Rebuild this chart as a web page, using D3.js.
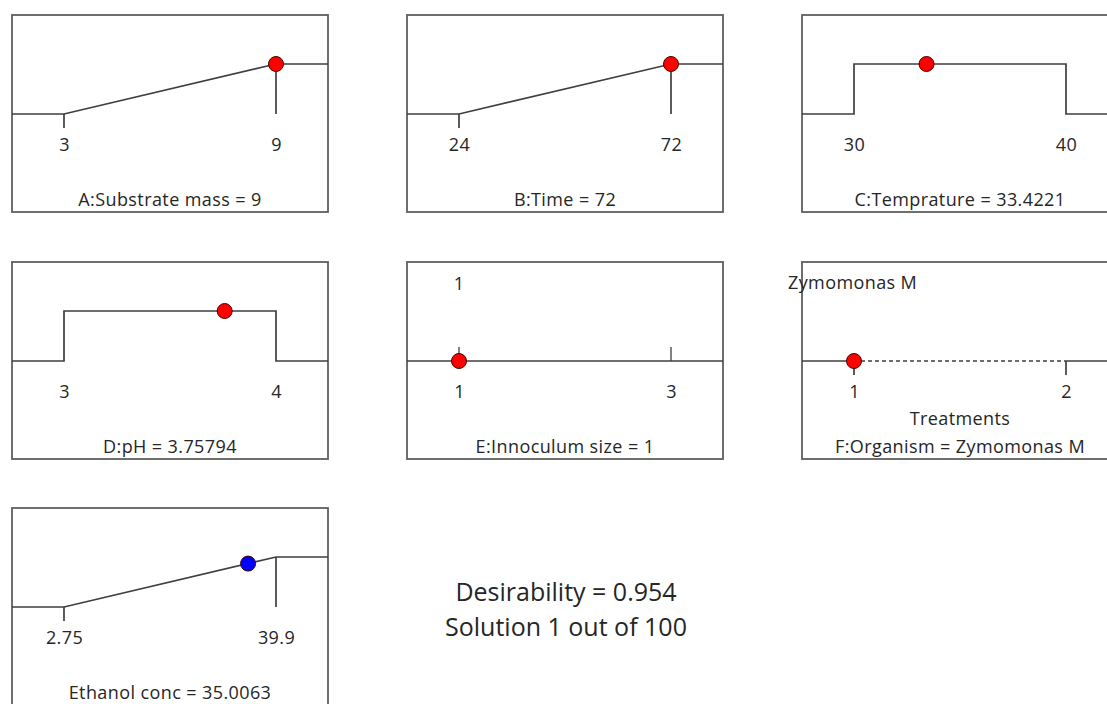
<!DOCTYPE html>
<html>
<head>
<meta charset="utf-8">
<script src="https://cdn.jsdelivr.net/npm/d3@7"></script>
<style>
  body { margin: 0; background: #fff; }
  text { font-family: "Open Sans", "Noto Sans", sans-serif; fill: #262626; }
</style>
</head>
<body>
<svg id="chart" width="1107" height="704"></svg>
<script>
"use strict";

// factor settings
var factorNames = ["A:Substrate mass", "B:Time", "C:Temprature", "D:pH", "E:Innoculum size", "F:Organism", "Ethanol conc"];
var lowValues = [3, 24, 30, 3, 1, 1, 2.75];
var highValues = [9, 72, 40, 4, 3, 2, 39.9];
var lowLabels = ["3", "24", "30", "3", "1", "1", "2.75"];
var highLabels = ["9", "72", "40", "4", "3", "2", "39.9"];
var solutionValues = [9, 72, 33.4221, 3.75794, 1, 1, 35.0063];
var solutionLabels = ["9", "72", "33.4221", "3.75794", "1", "Zymomonas M", "35.0063"];
var goalTypes = ["maximize", "maximize", "range", "range", "flat", "category", "maximize"];
var dotColors = ["red", "red", "red", "red", "red", "red", "blue"];
var desirability = 0.954;
var solutionNo = 1, solutionCount = 100;

var svg = d3.select("#chart");
var panelW = 316, panelH = 197;
var colX = [12, 407, 802];
var rowY = [15, 262, 508];
var lineColor = "#3f3f3f";
var frameColor = "#5f5f5f";
var fs = "18px";

function desir(type, v, lo, hi) {
    if (type === "maximize") return Math.max(0, Math.min(1, (v - lo) / (hi - lo)));
    if (type === "range") return (v >= lo && v <= hi) ? 1 : 0;
    return 0;
}

function label(g, x, y, txt, anchor) {
    return g.append("text").attr("x", x).attr("y", y)
        .attr("text-anchor", anchor || "middle").attr("dominant-baseline", "middle")
        .style("font-size", fs).style("letter-spacing", "0.4px")
        .text(txt);
}

for (var i = 0; i < factorNames.length; i++) {
    var g = svg.append("g")
        .attr("transform", "translate(" + colX[i % 3] + "," + rowY[Math.floor(i / 3)] + ")");
    var lo = lowValues[i], hi = highValues[i], type = goalTypes[i];
    var x = d3.scaleLinear().domain([lo, hi]).range([52, 264]);
    var y = d3.scaleLinear().domain([0, 1]).range([99, 49]);
    var xMin = x.invert(0), xMax = x.invert(panelW);

    g.append("rect")
        .attr("x", 0).attr("y", 0)
        .attr("width", panelW).attr("height", panelH)
        .attr("fill", "none").attr("stroke", frameColor).attr("stroke-width", 1.8);

    var line = d3.line().x(function (d) { return x(d[0]); }).y(function (d) { return y(d[1]); });
    var pts;
    if (type === "maximize") {
        pts = [[xMin, 0], [lo, 0], [hi, 1], [xMax, 1]];
    } else if (type === "range") {
        pts = [[xMin, 0], [lo, 0], [lo, 1], [hi, 1], [hi, 0], [xMax, 0]];
    } else if (type === "flat") {
        pts = [[xMin, 0], [xMax, 0]];
    } else {
        pts = null;
    }

    if (pts) {
        g.append("path").datum(pts).attr("d", line)
            .attr("fill", "none").attr("stroke", lineColor).attr("stroke-width", 1.7);
    }

    if (type === "maximize") {
        // tick below low end, drop line from high end
        g.append("line").attr("x1", x(lo)).attr("x2", x(lo)).attr("y1", y(0)).attr("y2", y(0) + 14)
            .attr("stroke", lineColor).attr("stroke-width", 1.7);
        g.append("line").attr("x1", x(hi)).attr("x2", x(hi)).attr("y1", y(1)).attr("y2", y(0))
            .attr("stroke", lineColor).attr("stroke-width", 1.7);
    } else if (type === "flat") {
        [lo, hi].forEach(function (t) {
            g.append("line").attr("x1", x(t)).attr("x2", x(t)).attr("y1", y(0) - 14).attr("y2", y(0))
                .attr("stroke", lineColor).attr("stroke-width", 1.3);
        });
        label(g, x(solutionValues[i]), 23, solutionLabels[i]);
    } else if (type === "category") {
        g.append("line").attr("x1", 0).attr("x2", x(lo)).attr("y1", y(0)).attr("y2", y(0))
            .attr("stroke", lineColor).attr("stroke-width", 1.7);
        g.append("line").attr("x1", x(lo)).attr("x2", x(hi)).attr("y1", y(0)).attr("y2", y(0))
            .attr("stroke", lineColor).attr("stroke-width", 1.4).attr("stroke-dasharray", "4,3");
        g.append("line").attr("x1", x(hi)).attr("x2", panelW).attr("y1", y(0)).attr("y2", y(0))
            .attr("stroke", lineColor).attr("stroke-width", 1.7);
        [lo, hi].forEach(function (t) {
            g.append("line").attr("x1", x(t)).attr("x2", x(t)).attr("y1", y(0)).attr("y2", y(0) + 14)
                .attr("stroke", lineColor).attr("stroke-width", 1.7);
        });
        label(g, -14, 22, solutionLabels[i], "start");
        label(g, panelW / 2, 158, "Treatments");
    }

    // axis labels at the low and high settings
    var axis = d3.axisBottom(x).tickValues([lo, hi]).tickSize(0)
        .tickFormat(function (d, k) { return k === 0 ? lowLabels[i] : highLabels[i]; });
    var ga = g.append("g").attr("transform", "translate(0,130)").call(axis);
    ga.select(".domain").remove();
    ga.attr("font-size", null).attr("font-family", null);
    ga.selectAll("text").attr("y", 0).attr("dy", "0.35em").attr("fill", "#262626")
        .style("font-size", fs).style("letter-spacing", "0.4px");

    // title
    label(g, panelW / 2, 186, factorNames[i] + " = " + solutionLabels[i]);

    // solution point
    var v = solutionValues[i];
    g.append("circle")
        .attr("cx", x(v)).attr("cy", y(desir(type, v, lo, hi)))
        .attr("r", 7.5)
        .attr("fill", dotColors[i]).attr("stroke", "#4a0000").attr("stroke-width", 1);
}

svg.append("text").attr("x", 566).attr("y", 594)
    .attr("text-anchor", "middle").attr("dominant-baseline", "middle")
    .style("font-size", "25px")
    .text("Desirability = " + desirability.toFixed(3));
svg.append("text").attr("x", 566).attr("y", 629)
    .attr("text-anchor", "middle").attr("dominant-baseline", "middle")
    .style("font-size", "25px")
    .text("Solution " + solutionNo + " out of " + solutionCount);
</script>
</body>
</html>
